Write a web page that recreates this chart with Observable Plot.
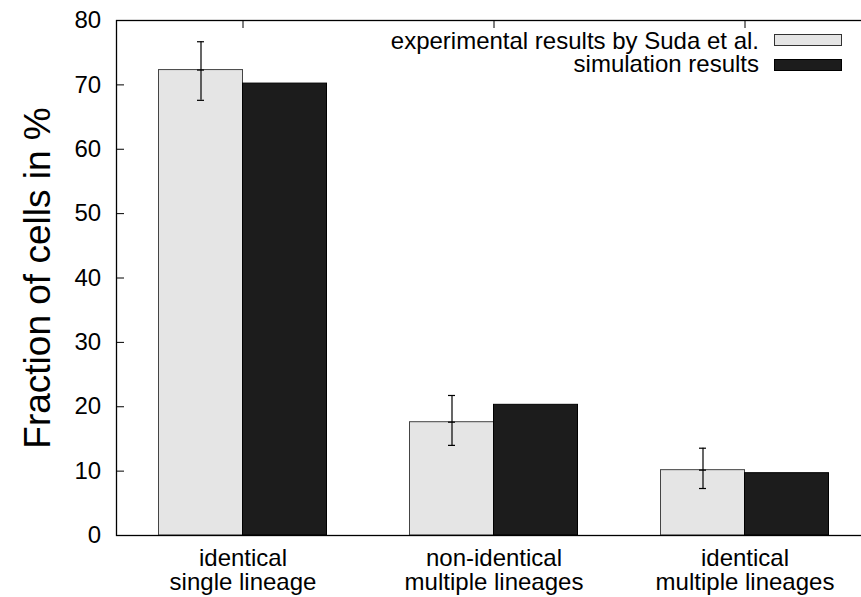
<!DOCTYPE html>
<html>
<head>
<meta charset="utf-8">
<script src="https://cdn.jsdelivr.net/npm/d3@7"></script>
<script src="https://cdn.jsdelivr.net/npm/@observablehq/plot@0.6"></script>
<style>
  html, body { margin: 0; padding: 0; background: white; }
  #wrap { position: relative; width: 861px; height: 597px; overflow: hidden; font-family: "Liberation Sans", Arial, Helvetica, sans-serif; }
  .leg { position: absolute; font-size: 24px; line-height: 24px; color: #000; white-space: nowrap; text-align: right; }
  .sw { position: absolute; box-sizing: border-box; }
</style>
</head>
<body>
<div id="wrap"></div>
<script>
const categories = ["identical\nsingle lineage", "non-identical\nmultiple lineages", "identical\nmultiple lineages"];
const experimental = [72.3, 17.6, 10.15];
const expLow = [67.6, 14.0, 7.3];
const expHigh = [76.7, 21.75, 13.56];
const simulation = [70.2, 20.3, 9.68];
const yTicks = [0, 10, 20, 30, 40, 50, 60, 70, 80];
const seriesNames = ["experimental results by Suda et al.", "simulation results"];
const yLabel = "Fraction of cells in %";

const expData = categories.map((c, i) => ({cat: c, v: experimental[i], lo: expLow[i], hi: expHigh[i]}));
const simData = categories.map((c, i) => ({cat: c, v: simulation[i]}));

const lightFill = "#e5e5e5";
const darkFill = "#1c1c1c";

const chart = Plot.plot({
  width: 861,
  height: 597,
  marginLeft: 116,
  marginRight: -9,
  marginTop: 20,
  marginBottom: 62,
  style: {fontFamily: '"Liberation Sans", Arial, Helvetica, sans-serif', background: "white", color: "black", overflow: "hidden"},
  x: {domain: categories, padding: 0},
  y: {domain: [0, 80]},
  marks: [
    Plot.barY(expData, {x: "cat", y: "v", fill: lightFill, stroke: "#444", strokeWidth: 1, insetLeft: 41.5, insetRight: 125.5}),
    Plot.barY(simData, {x: "cat", y: "v", fill: darkFill, stroke: "#000", strokeWidth: 1, insetLeft: 125.5, insetRight: 41.5}),
    Plot.ruleX(expData, {x: "cat", y1: "lo", y2: "hi", dx: -42, stroke: "#000", strokeWidth: 1.2}),
    Plot.tickY(expData, {x: "cat", y: "hi", insetLeft: 80, insetRight: 164, stroke: "#000", strokeWidth: 1.2}),
    Plot.tickY(expData, {x: "cat", y: "lo", insetLeft: 80, insetRight: 164, stroke: "#000", strokeWidth: 1.2}),
    Plot.tickY(expData, {x: "cat", y: "v", insetLeft: 80, insetRight: 164, stroke: "#000", strokeWidth: 1.2}),
    Plot.axisY({ticks: yTicks, tickSize: -8, tickPadding: 23.3, fontSize: 24, label: null}),
    Plot.axisX({anchor: "top", tickSize: -7, tickFormat: () => "", label: null}),
    Plot.axisX({anchor: "bottom", tickSize: 0, tickPadding: 13, fontSize: 24, lineHeight: 1.0, label: null}),
    Plot.text([yLabel], {frameAnchor: "left", textAnchor: "middle", rotate: -90, dx: -78, fontSize: 37, fill: "black"}),
    Plot.frame({stroke: "#000", strokeWidth: 1.3})
  ]
});

const wrap = document.getElementById("wrap");
wrap.appendChild(chart);

// legend
const legendRows = [
  {name: seriesNames[0], fill: lightFill, stroke: "#333", top: 29, swTop: 33.5},
  {name: seriesNames[1], fill: darkFill, stroke: "#000", top: 52.4, swTop: 58.5}
];
legendRows.forEach(r => {
  const t = document.createElement("div");
  t.className = "leg";
  t.textContent = r.name;
  t.style.right = (861 - 759) + "px";
  t.style.top = r.top + "px";
  wrap.appendChild(t);
  const s = document.createElement("div");
  s.className = "sw";
  s.style.left = "774px";
  s.style.top = r.swTop + "px";
  s.style.width = "68px";
  s.style.height = "12.5px";
  s.style.background = r.fill;
  s.style.border = "1.3px solid " + r.stroke;
  wrap.appendChild(s);
});
</script>
</body>
</html>
